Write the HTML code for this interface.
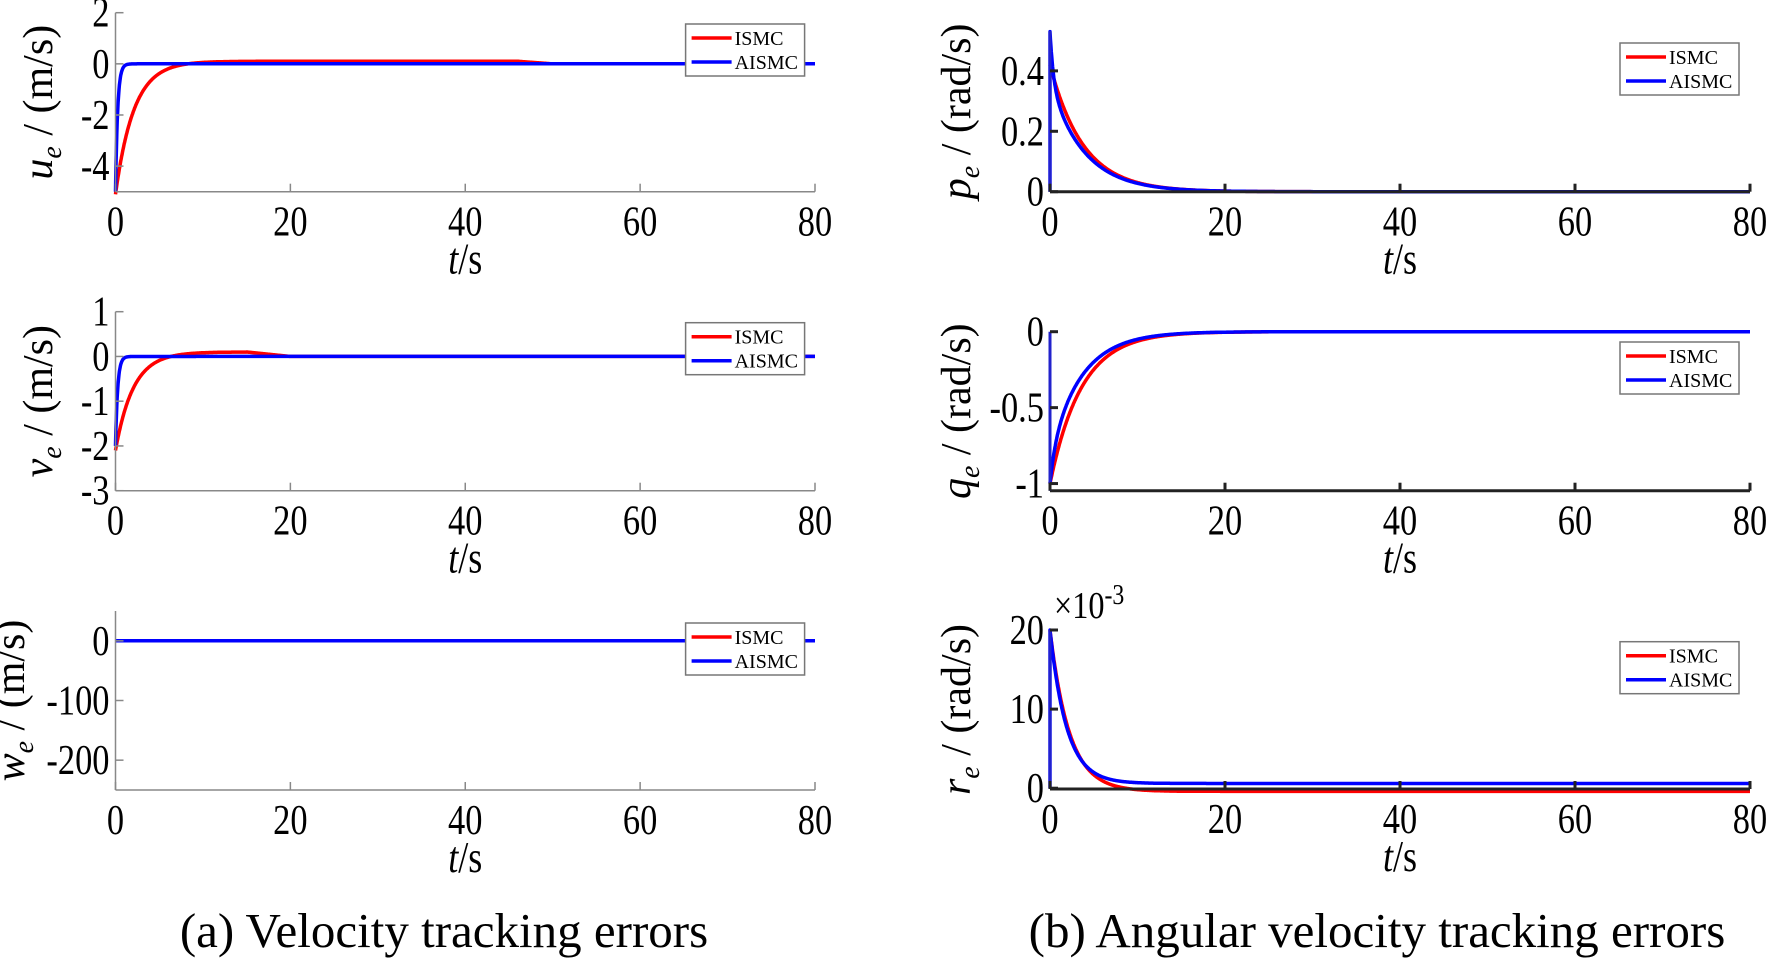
<!DOCTYPE html>
<html><head><meta charset="utf-8"><style>
html,body{margin:0;padding:0;background:#fff;}
svg{display:block;}
text{font-family:"Liberation Serif",serif;}
</style></head><body>
<svg id="s" width="1770" height="959" viewBox="0 0 1770 959" xmlns="http://www.w3.org/2000/svg"></svg>
<script>
const S=document.getElementById('s');let h='';
function txt(x,y,t,sz,anc,extra){h+=`<text x="${x}" y="${y}" font-size="${sz}" font-family="Liberation Serif, serif" text-anchor="${anc||'middle'}" ${extra||''}>${t}</text>`;}
function ntxt(x,y,t,sz,anc){h+=`<text transform="translate(${x},${y}) scale(0.82,1)" font-size="${sz}" font-family="Liberation Serif, serif" text-anchor="${anc||'middle'}">${t}</text>`;}
function plot(o){
 const X=t=>o.x0+(o.x1-o.x0)*t/80;
 const Y=v=>o.yb+(o.yt-o.yb)*(v-o.vmin)/(o.vmax-o.vmin);
 for(const c of o.curves){
  let p='';for(let i=0;i<=1600;i++){const t=i*0.05;const v=c.f(t);p+=(i?'L':'M')+X(t).toFixed(1)+' '+Y(v).toFixed(1);}
  if(c.pre!==undefined)p='M'+X(0)+' '+Y(c.pre)+p.replace('M','L');
  h+=`<path d="${p}" fill="none" stroke="${c.col}" stroke-width="3.5" stroke-linejoin="round"/>`;
 }
 const ac=o.dark?'#222':'#888',aw=o.dark?3:1.5;
 h+=`<line x1="${o.x0}" y1="${o.yb}" x2="${o.x1}" y2="${o.yb}" stroke="${ac}" stroke-width="${aw}"/>`;
 h+=`<line x1="${o.x0}" y1="${o.yb}" x2="${o.x0}" y2="${o.yt}" stroke="${o.dark?'#22c':ac}" stroke-width="${aw}"/>`;
 for(let t=0;t<=80;t+=20){h+=`<line x1="${X(t)}" y1="${o.yb}" x2="${X(t)}" y2="${o.yb-8}" stroke="${ac}" stroke-width="${aw}"/>`;ntxt(X(t),o.yb+44,t,42);}
 for(const [v,l] of o.yt_){h+=`<line x1="${o.x0}" y1="${Y(v)}" x2="${o.x0+8}" y2="${Y(v)}" stroke="${ac}" stroke-width="${aw}"/>`;ntxt(o.x0-6,Y(v)+14,l,42,'end');}
 ntxt((o.x0+o.x1)/2,o.yb+82,'<tspan font-style="italic">t</tspan>/s',44);
 const yc=(o.yt+o.yb)/2;
 h+=`<text transform="translate(${o.lx},${yc}) rotate(-90)" font-size="42" font-family="Liberation Serif, serif" text-anchor="middle"><tspan font-style="italic">${o.lab}</tspan><tspan font-size="28" dy="9" font-style="italic">e</tspan><tspan dy="-9"> / (${o.unit})</tspan></text>`;
 const L=o.leg;
 h+=`<rect x="${L[0]}" y="${L[1]}" width="119" height="52" fill="#fff" stroke="#777" stroke-width="1.5"/>`;
 h+=`<line x1="${L[0]+6}" y1="${L[1]+14}" x2="${L[0]+46}" y2="${L[1]+14}" stroke="red" stroke-width="3.5"/>`;
 h+=`<line x1="${L[0]+6}" y1="${L[1]+38}" x2="${L[0]+46}" y2="${L[1]+38}" stroke="blue" stroke-width="3.5"/>`;
 txt(L[0]+49,L[1]+21,'ISMC',20,'start');txt(L[0]+49,L[1]+45,'AISMC',20,'start');
}
const E=Math.exp;
const LX0=115.5,LX1=815,RX0=1050,RX1=1750;
plot({x0:LX0,x1:LX1,yt:12.7,yb:191.7,vmin:-5,vmax:2,lx:52,lab:'u',unit:'m/s',
 yt_:[[2,2],[0,0],[-2,-2],[-4,-4]],leg:[685.6,24],
 curves:[{col:'red',f:t=>t<46?-5.1*E(-t/2.1)+0.1*(1-E(-t/2)):0.1*Math.max(0,1-(t-46)/4)},
 {col:'blue',f:t=>-5*E(-t/0.25)}]});
plot({x0:LX0,x1:LX1,yt:311.7,yb:490.7,vmin:-3,vmax:1,lx:52,lab:'v',unit:'m/s',
 yt_:[[1,1],[0,0],[-1,-1],[-2,-2],[-3,-3]],leg:[685.6,322.7],
 curves:[{col:'red',f:t=>t<15?-2.1*E(-t/2)+0.1*(1-E(-t/3)):0.1*Math.max(0,1-(t-15)/5)},
 {col:'blue',f:t=>-2*E(-t/0.25)}]});
plot({x0:LX0,x1:LX1,yt:611,yb:790,vmin:-250,vmax:50,lx:24,lab:'w',unit:'m/s',
 yt_:[[0,0],[-100,-100],[-200,-200]],leg:[685.6,623],
 curves:[{col:'red',f:t=>0},{col:'blue',f:t=>0}]});
plot({x0:RX0,x1:RX1,yt:31,yb:191.7,vmin:0,vmax:0.532,lx:970,lab:'p',unit:'rad/s',dark:1,
 yt_:[[0,0],[0.2,0.2],[0.4,0.4]],leg:[1620,43],
 curves:[{col:'red',f:t=>0.42*E(-t/3.8)},{col:'blue',pre:0,f:t=>0.36*E(-t/3.9)+0.17*E(-t/0.4)}]});
plot({x0:RX0,x1:RX1,yt:331.7,yb:490.7,vmin:-1.047,vmax:0,lx:970,lab:'q',unit:'rad/s',dark:1,
 yt_:[[0,0],[-0.5,-0.5],[-1,-1]],leg:[1620,342],
 curves:[{col:'red',f:t=>-1.0*E(-t/3.6)},{col:'blue',f:t=>-0.8*E(-t/3.6)-0.2*E(-t/0.6)}]});
plot({x0:RX0,x1:RX1,yt:630,yb:789,vmin:-0.1,vmax:20,lx:970,lab:'r',unit:'rad/s',dark:1,
 yt_:[[0,0],[10,10],[20,20]],leg:[1620,641.7],
 curves:[{col:'red',f:t=>-0.4+20.4*E(-t/2.2)},{col:'blue',pre:0,f:t=>0.6+19.4*E(-t/1.9)}]});
h+=`<text transform="translate(1054,618) scale(0.85,1)" font-size="38" font-family="Liberation Serif, serif">×10<tspan font-size="28" dy="-14">-3</tspan></text>`;
txt(444,947,'(a)  Velocity tracking errors',49);
txt(1377,947,'(b)  Angular velocity tracking errors',49);
S.innerHTML=h;
</script>
</body></html>
